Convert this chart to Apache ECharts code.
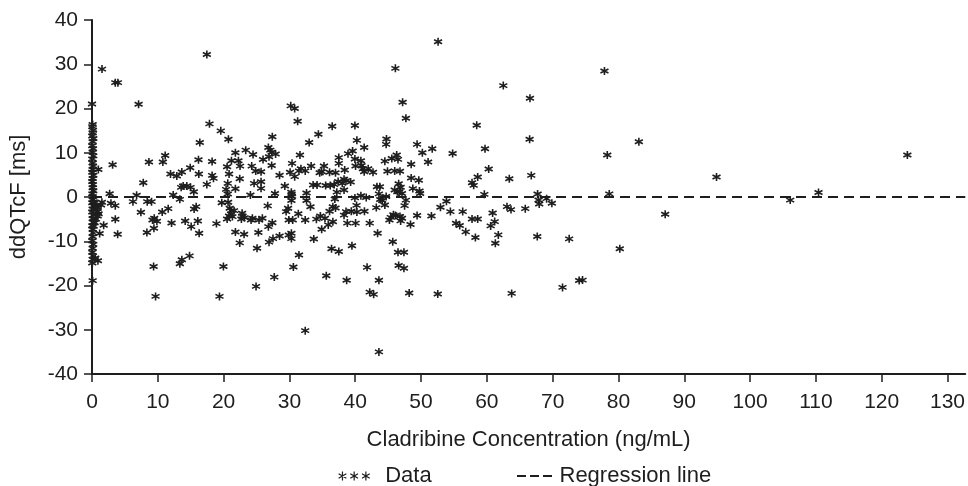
<!DOCTYPE html>
<html>
<head>
<meta charset="utf-8">
<script src="https://cdn.jsdelivr.net/npm/echarts@6/dist/echarts.min.js"></script>
<style>
html,body{margin:0;padding:0;background:#fff;}
#chart{width:968px;height:486px;}
</style>
</head>
<body>
<div id="chart"></div>
<script>
// ---- Data (x = Cladribine concentration ng/mL, y = ddQTcF ms) ----
const pointsNearZero = [
  [0,21.0],[0.1,16.4],[0.05,15.9],[0.15,15.1],[0.1,14.5],[0.05,13.8],[0.2,13.2],[0.1,12.5],[0.05,11.6],
  [0.15,10.9],[0.1,10.1],[0.2,9.3],[0.05,8.6],[0.1,7.7],[0.15,7.0],[0.1,6.2],[0.05,5.6],[0.2,4.9],
  [0.1,4.2],[0.05,3.5],[0.15,2.8],[0.1,2.1],[0.2,1.4],[0.05,0.7],[0.1,0.1],[0.15,-0.6],[0.05,-1.3],
  [0.2,-2.0],[0.1,-2.7],[0.05,-3.4],[0.15,-4.1],[0.1,-4.9],[0.2,-5.7],[0.05,-6.5],[0.1,-7.3],[0.15,-8.1],
  [0.1,-9.0],[0.05,-9.9],[0.2,-10.7],[0.1,-11.6],[0.05,-12.5],[0.15,-13.3],[0.1,-14.1],[0.05,-14.9],[0.1,-18.9],
  [0.25,-1.05],[0.5,-1.95],[0.81,-2.5],[1.0,-3.8],[0.6,-5.0],[0.4,-5.8],[0.9,-14.4],[0.5,-13.8],
  [0.35,-1.3],[0.86,-3.3],[0.66,-2.2],[1.37,-1.8],[0.86,-4.3],[0.25,-6.6],[0.96,6.2],[1.52,28.9],[1.5,-1.2]
];
const points0to25 = [
  [2.68,0.75],[3.13,7.29],[3.54,25.84],[3.94,25.84],[6.78,0.38],[7.08,20.96],[7.79,3.23],[8.65,7.89],
  [10.77,7.89],[11.12,9.39],[11.93,5.18],[12.34,0.45],[12.89,4.73],[13.55,2.18],[13.65,5.63],[13.85,2.48],
  [14.41,2.48],[14.92,6.61],[14.97,2.18],[15.47,1.2],[16.18,8.41],[16.23,5.18],[16.38,12.32],[17.45,32.22],
  [17.45,2.85],[17.85,16.53],[18.25,8.04],[18.25,4.88],[18.46,4.21],[19.57,14.95],[20.38,1.73],[20.53,6.83],
  [20.63,3.08],[20.63,0.68],[20.73,13.07],[20.83,5.18],[21.19,8.19],[21.79,9.99],[21.79,1.88],[22.25,8.19],
  [22.45,4.13],[22.5,6.98],[23.36,10.59],[24.07,0.45],[24.27,6.98],[24.47,9.61],[24.63,3.08],[24.88,5.86],
  [25.69,5.71],[25.69,3.46],[25.69,1.95],[25.99,8.49],
  [1.77,-6.39],[1.16,-8.26],[2.88,-1.43],[3.54,-1.95],[3.54,-5.03],[3.9,-8.41],[6.22,-1.05],[7.43,-3.46],
  [8.39,-1.05],[9.05,-1.05],[8.34,-8.04],[9.2,-5.18],[9.46,-4.81],[9.86,-5.48],[9.41,-7.06],[9.36,-15.7],
  [9.66,-22.46],[10.67,-3.38],[11.58,-2.63],[12.09,-5.86],[13.35,-0.53],[14.16,-5.41],[15.07,-6.69],
  [15.52,-2.7],[15.83,-2.18],[16.08,-5.41],[16.28,-8.19],[13.35,-15.1],[13.65,-14.2],[14.82,-13.3],
  [18.91,-6.01],[19.72,-1.28],[19.97,-15.7],[19.37,-22.46],[20.68,-1.2],[20.93,-2.55],[21.19,-3.08],
  [21.59,-3.08],[20.83,-4.28],[21.34,-4.43],[21.14,-3.83],[20.53,-4.96],[21.79,-7.89],[22.45,-10.37],
  [23.11,-8.41],[22.81,-3.68],[22.86,-4.28],[23.16,-4.66],[22.7,-4.96],[24.17,-5.18],[24.37,-4.81],
  [25.28,-8.04],[25.08,-11.57],[24.93,-20.2],[25.38,-5.18],[25.89,-4.81]
];
const points25to52 = [
  [46.1,29.07],[47.2,21.4],[47.7,17.8],[30.2,20.6],[30.8,20.0],[31.25,17.1],[36.5,16.0],[39.95,16.15],
  [34.4,14.2],[33.0,12.3],[40.25,12.8],[27.4,13.6],[26.8,11.2],[27.1,10.6],[27.3,10.1],[27.9,9.7],[26.9,9.1],
  [31.6,9.5],[30.4,7.6],[27.3,7.1],[28.5,4.9],[30.1,5.6],[30.8,4.6],[31.45,5.9],[31.75,6.4],[32.4,5.9],
  [33.3,7.0],[34.6,5.5],[34.9,5.7],[35.25,7.0],[36.1,5.6],[37.0,5.5],[37.5,8.9],[37.5,7.6],[38.4,6.1],
  [38.9,9.8],[39.6,10.4],[39.95,8.6],[40.05,7.0],[40.86,8.2],[40.96,7.1],[41.16,6.4],[41.36,5.7],[41.36,11.2],
  [41.97,6.4],[42.7,5.6],[44.75,13.1],[44.7,11.9],[44.5,8.1],[45.56,8.7],[46.3,9.5],[46.5,8.5],[44.9,5.8],
  [46.0,5.9],[46.8,5.8],[49.4,11.9],[50.2,10.0],[51.07,7.9],[51.7,10.9],[48.5,7.4],[48.5,4.3],[49.66,3.8],
  [48.75,1.9],[49.76,1.35],[49.86,0.8],[29.3,2.5],[30.29,1.1],[30.34,0.7],[27.8,0.8],[33.6,2.7],[34.2,2.7],
  [35.5,2.6],[36.2,2.6],[36.8,2.8],[37.4,3.5],[38.03,3.1],[38.3,4.0],[38.6,3.7],[39.3,3.4],[37.2,1.1],
  [38.3,1.6],[36.9,-0.45],[32.6,0.9],[32.6,-0.8],[40.86,0.3],[41.67,-0.1],[39.95,-0.2],[43.3,2.3],[43.74,2.3],
  [43.6,0.7],[43.8,-0.55],[44.1,-0.8],[44.7,0.1],[46.6,3.0],[46.9,2.2],[46.7,1.2],[47.1,0.8],[47.7,-0.7],
  [47.5,-1.95],[46.4,1.2],[46.0,1.6],
  [26.7,-2.0],[26.8,-6.7],[27.4,-5.8],[26.9,-10.2],[27.5,-9.4],[28.5,-8.8],[27.7,-18.1],[29.5,-3.3],
  [29.8,-2.55],[29.9,-5.2],[30.5,-5.2],[29.9,-8.6],[30.3,-8.2],[30.3,-9.4],[30.3,-0.8],[30.4,0.1],
  [31.35,-3.8],[31.45,-13.1],[30.6,-15.8],[32.4,-5.2],[33.2,-2.2],[32.4,-30.2],[33.7,-9.5],[34.1,-5.0],
  [34.7,-4.3],[35.4,-4.8],[35.9,-6.3],[36.6,-5.6],[34.9,-7.3],[36.1,-3.2],[36.6,-2.2],[37.0,-2.5],
  [36.4,-11.7],[37.5,-12.3],[35.6,-17.8],[38.3,-4.1],[38.6,-3.3],[39.4,-3.2],[40.2,-1.9],[40.25,-3.4],
  [38.8,-5.9],[40.05,-5.9],[39.5,-11.0],[38.7,-18.8],[41.4,-3.2],[41.8,-15.9],[42.2,-5.9],[42.2,-21.5],
  [42.8,-22.0],[43.2,-2.4],[43.4,-8.2],[43.6,-18.8],[43.6,-35.0],[44.5,-1.8],[45.2,-5.2],[45.4,-4.6],
  [45.8,-4.0],[46.1,-4.2],[45.7,-10.1],[46.5,-12.5],[47.4,-12.5],[46.6,-15.5],[47.4,-16.1],[46.8,-4.4],
  [46.9,-5.4],[47.1,-4.8],[48.2,-21.7],[48.4,-6.2],[49.4,-4.2]
];
const points52plus = [
  [52.59,35.08],[77.87,28.47],[62.5,25.17],[66.55,22.31],[58.46,16.23],[66.5,13.07],[54.8,9.84],[59.72,10.9],
  [60.28,6.31],[58.61,4.51],[57.75,3.23],[58.0,2.63],[63.41,4.13],[66.75,4.88],[59.62,0.6],[67.71,0.68],
  [67.86,-0.67],[67.96,-1.58],[69.08,-0.37],[69.88,-1.42],[53.86,-0.97],[52.95,-2.33],[51.58,-4.28],
  [54.46,-3.3],[56.33,-3.3],[55.32,-5.93],[55.88,-6.46],[56.79,-7.88],[57.75,-4.96],[58.61,-4.96],
  [58.26,-9.16],[60.88,-3.6],[61.19,-5.56],[60.58,-6.53],[61.74,-8.56],[61.29,-10.44],[63.06,-2.18],
  [63.67,-2.85],[65.84,-2.63],[67.66,-8.94],[72.51,-9.46],[52.54,-21.93],[63.77,-21.78],[71.5,-20.43],
  [74.03,-18.85],[74.54,-18.78],[78.3,9.5],[78.6,0.7],[80.2,-11.7],[83.1,12.5],[87.1,-3.9],[94.9,4.5],
  [106.1,-0.7],[110.4,1.0],[123.9,9.5]
];
// Regression line (flat at ~0)
const regressionX = [0, 132.7];
const regressionY = [0.0, 0.0];

// Axes
const xMin = 0, xMax = 132.7, xStep = 10;
const xTicks = [0,10,20,30,40,50,60,70,80,90,100,110,120,130];
const yMin = -40, yMax = 40, yStep = 10;
const yTicks = [-40,-30,-20,-10,0,10,20,30,40];
const xTitle = 'Cladribine Concentration (ng/mL)';
const yTitle = 'ddQTcF [ms]';
const legendNames = ['Data', 'Regression line'];

// ---- Chart ----
const FONT = '"Liberation Sans", Arial, sans-serif';
const INK = '#1e1e1e';
const asterisk = 'path://M0,-6L0,6M-5.2,-3L5.2,3M-5.2,3L5.2,-3';
const asteriskTriple = 'path://M5,0L5,10M0.7,2.5L9.3,7.5M0.7,7.5L9.3,2.5M18,0L18,10M13.7,2.5L22.3,7.5M13.7,7.5L22.3,2.5M31,0L31,10M26.7,2.5L35.3,7.5M26.7,7.5L35.3,2.5';
const dashTriple = 'path://M0,0L9,0L9,2L0,2ZM13,0L22,0L22,2L13,2ZM26,0L35,0L35,2L26,2Z';

const allPoints = [].concat(pointsNearZero, points0to25, points25to52, points52plus);
const regData = regressionX.map((x, i) => [x, regressionY[i]]);

const chart = echarts.init(document.getElementById('chart'), null, {renderer: 'canvas'});
chart.setOption({
  animation: false,
  backgroundColor: '#ffffff',
  textStyle: {fontFamily: FONT},
  grid: {left: 91, right: 2, top: 20, bottom: 112, containLabel: false},
  xAxis: {
    type: 'value', min: xMin, max: xMax, interval: xStep,
    name: xTitle, nameLocation: 'middle', nameGap: 55,
    nameTextStyle: {fontSize: 22, color: INK, fontFamily: FONT},
    axisLine: {show: true, onZero: false, lineStyle: {color: INK, width: 2}},
    axisTick: {show: true, length: 8, customValues: xTicks, lineStyle: {color: INK, width: 1.5}},
    axisLabel: {fontSize: 21, color: INK, margin: 18, fontFamily: FONT, customValues: xTicks},
    splitLine: {show: false}
  },
  yAxis: {
    type: 'value', min: yMin, max: yMax, interval: yStep,
    name: yTitle, nameLocation: 'middle', nameGap: 62, nameRotate: 90,
    nameTextStyle: {fontSize: 22, color: INK, fontFamily: FONT},
    axisLine: {show: true, onZero: false, lineStyle: {color: INK, width: 2}},
    axisTick: {show: true, length: 8, customValues: yTicks, lineStyle: {color: INK, width: 1.5}},
    axisLabel: {fontSize: 21, color: INK, margin: 14, fontFamily: FONT, customValues: yTicks},
    splitLine: {show: false}
  },
  legend: [
    {
      left: 338, top: 465, padding: 0, itemWidth: 34, itemHeight: 9, itemGap: 10,
      textStyle: {fontSize: 22, color: INK, fontFamily: FONT, padding: [0, 0, 0, 9]},
      data: [{name: legendNames[0], icon: asteriskTriple,
              itemStyle: {color: 'rgba(0,0,0,0)', borderColor: INK, borderWidth: 1.2}}]
    },
    {
      left: 517, top: 465, padding: 0, itemWidth: 36, itemHeight: 2, itemGap: 10,
      textStyle: {fontSize: 22, color: INK, fontFamily: FONT, padding: [0, 0, 0, 2]},
      data: [{name: legendNames[1], icon: dashTriple, itemStyle: {color: INK, borderWidth: 0}}]
    }
  ],
  series: [
    {
      name: legendNames[0], type: 'scatter', data: allPoints,
      symbol: asterisk, symbolSize: 8,
      itemStyle: {color: 'rgba(0,0,0,0)', borderColor: INK, borderWidth: 1.6, opacity: 1},
      z: 3
    },
    {
      name: legendNames[1], type: 'line', data: regData,
      symbol: 'none', silent: true,
      lineStyle: {color: INK, width: 2, type: [10, 6]},
      z: 2
    }
  ]
});
</script>
</body>
</html>
